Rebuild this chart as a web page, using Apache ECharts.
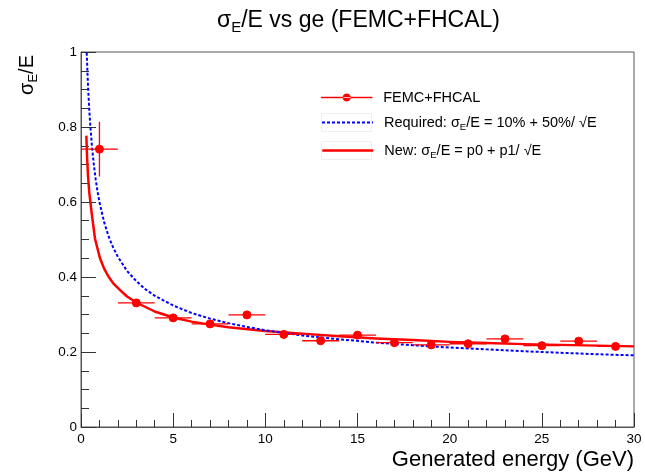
<!DOCTYPE html>
<html>
<head>
<meta charset="utf-8">
<script src="https://cdn.jsdelivr.net/npm/echarts@6/dist/echarts.min.js"></script>
<style>
  html, body { margin: 0; padding: 0; background: #ffffff; }
  #chart { width: 645px; height: 475px; }
</style>
</head>
<body>
<div id="chart"></div>
<script>
// Measured resolution per energy bin (FEMC+FHCAL)
const energyGeV = [1, 3, 5, 7, 9, 11, 13, 15, 17, 19, 21, 23, 25, 27, 29];
const energyErr = [1, 1, 1, 1, 1, 1, 1, 1, 1, 1, 1, 1, 1, 1, 1];
const resolution = [0.741, 0.331, 0.291, 0.275, 0.299, 0.247, 0.230, 0.245, 0.225, 0.219, 0.222, 0.235, 0.217, 0.229, 0.215];
const resolutionErr = [0.073, 0.005, 0.004, 0.004, 0.004, 0.004, 0.004, 0.004, 0.004, 0.004, 0.004, 0.004, 0.004, 0.004, 0.004];

// Requirement curve: 10% + 50%/sqrt(E), tabulated
const requiredE = [0.31, 0.35, 0.4, 0.45, 0.5, 0.6, 0.7, 0.8, 0.9, 1, 1.25, 1.5, 1.75, 2, 2.5, 3, 3.5, 4, 5, 6, 7, 8, 9, 10, 12, 14, 16, 18, 20, 22, 24, 26, 28, 30];
const requiredY = [0.998, 0.945, 0.891, 0.845, 0.807, 0.745, 0.698, 0.659, 0.627, 0.600, 0.547, 0.508, 0.478, 0.454, 0.416, 0.389, 0.367, 0.350, 0.324, 0.304, 0.289, 0.277, 0.267, 0.258, 0.244, 0.234, 0.225, 0.218, 0.212, 0.207, 0.202, 0.198, 0.194, 0.191];

// Fitted curve p0 + p1/sqrt(E), tabulated
const fitE = [0.29, 0.33, 0.38, 0.45, 0.58, 0.76, 1.03, 1.25, 1.48, 1.75, 2.12, 2.5, 3, 4, 5, 6, 7, 8, 10, 12, 14, 16, 18, 20, 22, 24, 26, 28, 30];
const fitY = [0.777, 0.720, 0.670, 0.625, 0.570, 0.502, 0.450, 0.423, 0.402, 0.383, 0.365, 0.348, 0.332, 0.308, 0.292, 0.281, 0.273, 0.266, 0.256, 0.249, 0.242, 0.236, 0.232, 0.227, 0.224, 0.221, 0.219, 0.217, 0.215];

// Axis ticks
const xTicks = [0, 5, 10, 15, 20, 25, 30];
const yTicks = [0, 0.2, 0.4, 0.6, 0.8, 1];

const FONT = '"Liberation Sans", Arial, Helvetica, sans-serif';
const RED = '#ff0000';
const BLUE = '#0000ff';
const AXIS = '#555555';

const pointsData = energyGeV.map((e, i) => [e, resolution[i], energyErr[i], resolutionErr[i]]);
const requiredData = requiredE.map((e, i) => [e, requiredY[i]]);
const fitData = fitE.map((e, i) => [e, fitY[i]]);

// Legend glyph for the measured points: a thin line with a dot in the middle (51 x 7.5 box)
const POINT_ICON = 'path://M0,3.15 L51,3.15 L51,4.35 L0,4.35 Z ' +
  'M21.75,3.75 A3.75,3.75 0 1,0 29.25,3.75 A3.75,3.75 0 1,0 21.75,3.75 Z';

const legendLabels = {
  'FEMC+FHCAL': '{t|FEMC+FHCAL}',
  'Required': '{t|Required: σ}{s|E}{t|/E = 10% + 50%/ √E}',
  'New': '{t|New: σ}{s|E}{t|/E = p0 + p1/ √E}'
};
const legendRich = {
  t: { fontFamily: FONT, fontSize: 14.5, color: '#000', lineHeight: 20 },
  s: { fontFamily: FONT, fontSize: 9.5, color: '#000', lineHeight: 20, padding: [9, 0, 0, 0] }
};

function legendBox(item, top, itemHeight, lineStyle, itemStyle) {
  return {
    orient: 'vertical',
    left: 321,
    top: top,
    padding: 0,
    itemWidth: 51,
    itemHeight: itemHeight,
    selectedMode: false,
    formatter: n => legendLabels[n],
    textStyle: { fontFamily: FONT, fontSize: 14.5, color: '#000', padding: [0, 0, 0, 6], rich: legendRich },
    lineStyle: lineStyle,
    itemStyle: itemStyle,
    data: [item]
  };
}

const chart = echarts.init(document.getElementById('chart'), null, { renderer: 'canvas' });

chart.setOption({
  animation: false,
  backgroundColor: '#ffffff',
  title: {
    text: '{a|σ}{s|E}{a|/E vs ge (FEMC+FHCAL)}',
    left: 217,
    top: 6,
    padding: 0,
    textStyle: {
      fontWeight: 'normal',
      rich: {
        a: { fontFamily: FONT, fontSize: 23, fontWeight: 'normal', color: '#000', lineHeight: 30 },
        s: { fontFamily: FONT, fontSize: 15, fontWeight: 'normal', color: '#000', lineHeight: 30, padding: [14, 0, 0, 0] }
      }
    }
  },
  legend: [
    legendBox({ name: 'FEMC+FHCAL', icon: POINT_ICON }, 90, 7.5,
      { color: RED, width: 1.2, opacity: 1 },
      { color: RED, borderColor: RED, borderWidth: 0.4, opacity: 1 }),
    legendBox('Required', 113, 9,
      { color: BLUE, width: 2, type: [3, 2], opacity: 1 },
      { opacity: 0 }),
    legendBox('New', 141, 9,
      { color: RED, width: 2.5, opacity: 1 },
      { opacity: 0 })
  ],
  grid: {
    left: 81, right: 11, top: 52, bottom: 48,
    show: true, borderColor: AXIS, borderWidth: 1, backgroundColor: 'transparent'
  },
  xAxis: {
    type: 'value',
    min: xTicks[0],
    max: xTicks[xTicks.length - 1],
    interval: xTicks[1] - xTicks[0],
    name: 'Generated energy (GeV)',
    nameLocation: 'end',
    nameGap: 0,
    nameTextStyle: { fontFamily: FONT, fontSize: 22, color: '#000', align: 'right', verticalAlign: 'top', padding: [22, 0, 0, 0] },
    axisLine: { show: true, onZero: false, lineStyle: { color: AXIS, width: 1 } },
    axisTick: { show: true, inside: true, length: 14, lineStyle: { color: '#333', width: 1 } },
    minorTick: { show: true, splitNumber: 5, length: 7, lineStyle: { color: '#333', width: 1 } },
    axisLabel: { fontFamily: FONT, fontSize: 13.5, color: '#000', margin: 5 },
    splitLine: { show: false },
    minorSplitLine: { show: false }
  },
  yAxis: {
    type: 'value',
    min: yTicks[0],
    max: yTicks[yTicks.length - 1],
    interval: yTicks[1] - yTicks[0],
    axisLine: { show: true, onZero: false, lineStyle: { color: AXIS, width: 1 } },
    axisTick: { show: true, inside: true, length: 15, lineStyle: { color: '#333', width: 1 } },
    minorTick: { show: true, splitNumber: 4, length: 8, lineStyle: { color: '#333', width: 1 } },
    axisLabel: { fontFamily: FONT, fontSize: 13.5, color: '#000', margin: 4 },
    splitLine: { show: false },
    minorSplitLine: { show: false }
  },
  graphic: [
    {
      type: 'text',
      x: 27,
      y: 55,
      rotation: Math.PI / 2,
      style: {
        text: '{a|σ}{s|E}{a|/E}',
        align: 'right',
        verticalAlign: 'middle',
        rich: {
          a: { fontFamily: FONT, fontSize: 20, fill: '#000', lineHeight: 26 },
          s: { fontFamily: FONT, fontSize: 13, fill: '#000', lineHeight: 26, padding: [12, 0, 0, 0] }
        }
      }
    },
    { type: 'rect', shape: { x: 321.5, y: 113.5, width: 50, height: 18 }, style: { fill: 'none', stroke: '#efefef', lineWidth: 1 }, silent: true },
    { type: 'rect', shape: { x: 321.5, y: 141.5, width: 50, height: 18 }, style: { fill: 'none', stroke: '#efefef', lineWidth: 1 }, silent: true }
  ],
  series: [
    {
      name: 'New',
      type: 'line',
      data: fitData,
      showSymbol: false,
      symbol: 'none',
      smooth: false,
      clip: true,
      lineStyle: { color: RED, width: 2.5, join: 'round' },
      itemStyle: { color: RED },
      z: 2
    },
    {
      name: 'Required',
      type: 'line',
      data: requiredData,
      showSymbol: false,
      symbol: 'none',
      smooth: false,
      clip: true,
      lineStyle: { color: BLUE, width: 2, type: [3, 2] },
      itemStyle: { color: BLUE },
      z: 3
    },
    {
      name: 'FEMC+FHCAL errors',
      type: 'custom',
      data: pointsData,
      clip: true,
      z: 4,
      renderItem: function (params, api) {
        const x = api.value(0), y = api.value(1), ex = api.value(2), ey = api.value(3);
        const l = api.coord([x - ex, y]), r = api.coord([x + ex, y]);
        const b = api.coord([x, y - ey]), t = api.coord([x, y + ey]);
        const style = { stroke: RED, lineWidth: 1.3 };
        return {
          type: 'group',
          children: [
            { type: 'line', shape: { x1: l[0], y1: l[1], x2: r[0], y2: r[1] }, style: style },
            { type: 'line', shape: { x1: b[0], y1: b[1], x2: t[0], y2: t[1] }, style: style }
          ]
        };
      }
    },
    {
      name: 'FEMC+FHCAL',
      type: 'scatter',
      data: pointsData.map(p => [p[0], p[1]]),
      symbol: 'circle',
      symbolSize: 8,
      itemStyle: { color: RED, borderColor: RED, opacity: 1 },
      z: 5
    }
  ]
});
</script>
</body>
</html>
